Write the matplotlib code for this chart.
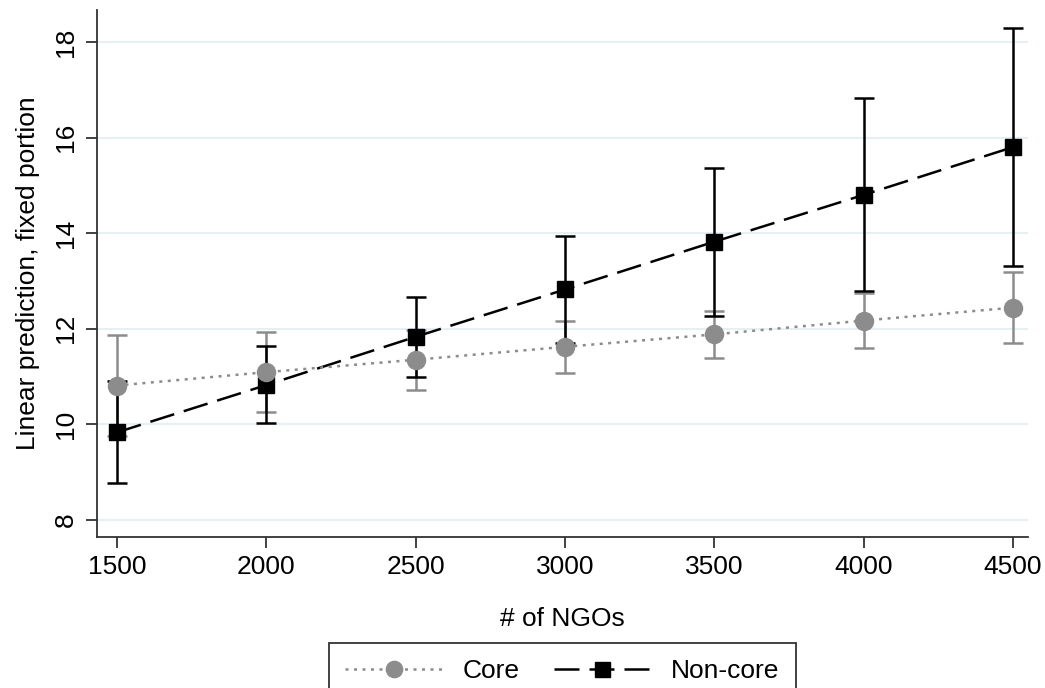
import matplotlib
matplotlib.use("Agg")
import matplotlib.pyplot as plt
import numpy as np

ngos = [1500, 2000, 2500, 3000, 3500, 4000, 4500]

core_mean = [10.81, 11.09, 11.35, 11.62, 11.88, 12.17, 12.44]
core_lo = [9.76, 10.26, 10.72, 11.08, 11.39, 11.60, 11.71]
core_hi = [11.86, 11.92, 11.98, 12.16, 12.37, 12.74, 13.18]

noncore_mean = [9.83, 10.82, 11.83, 12.82, 13.82, 14.80, 15.80]
noncore_lo = [8.76, 10.02, 10.99, 11.71, 12.26, 12.79, 13.31]
noncore_hi = [10.90, 11.63, 12.67, 13.93, 15.36, 16.82, 18.30]

y_ticks = [8, 10, 12, 14, 16, 18]
x_ticks = [1500, 2000, 2500, 3000, 3500, 4000, 4500]

plt.rcParams["font.family"] = ["Liberation Sans", "DejaVu Sans"]

GRAY = "#8c8c8c"
GRID = "#e6eff3"
FS = 19

fig = plt.figure(figsize=(10.45, 6.88), dpi=100)
ax = fig.add_axes([0.0928, 0.2195, 0.8909, 0.766])

for yt in y_ticks:
    ax.axhline(yt, color=GRID, lw=1.5, zorder=0)

x = np.array(ngos)
cm = np.array(core_mean)
nm = np.array(noncore_mean)
core_err = [cm - np.array(core_lo), np.array(core_hi) - cm]
non_err = [nm - np.array(noncore_lo), np.array(noncore_hi) - nm]

ax.errorbar(x, cm, yerr=core_err, fmt="none", ecolor=GRAY, elinewidth=1.8,
            capsize=7, capthick=1.8, zorder=2)
ax.errorbar(x, nm, yerr=non_err, fmt="none", ecolor="black", elinewidth=1.8,
            capsize=7, capthick=1.8, zorder=3)

non_line, = ax.plot(x, nm, color="black", lw=1.8, linestyle=(0, (10, 4)),
                    marker="s", markersize=12, markerfacecolor="black",
                    markeredgecolor="black", zorder=4, label="Non-core")
core_line, = ax.plot(x, cm, color=GRAY, lw=1.8, linestyle=(0, (1.2, 2.2)),
                     marker="o", markersize=13, markerfacecolor=GRAY,
                     markeredgecolor=GRAY, zorder=5, label="Core")

ax.set_xlim(1433, 4550)
ax.set_ylim(7.64, 18.67)
ax.set_xticks(x_ticks)
ax.set_yticks(y_ticks)
ax.set_yticklabels([str(t) for t in y_ticks], rotation=90, va="center")
ax.tick_params(axis="both", labelsize=FS, length=8, width=1.3, color="#333333")
ax.tick_params(axis="y", pad=6)
ax.tick_params(axis="x", pad=5)

for side in ["top", "right"]:
    ax.spines[side].set_visible(False)
for side in ["left", "bottom"]:
    ax.spines[side].set_linewidth(1.3)
    ax.spines[side].set_color("#333333")

ax.set_xlabel("# of NGOs", fontsize=FS, labelpad=20)
ax.set_ylabel("Linear prediction, fixed portion", fontsize=FS, labelpad=10)

# legend box sits at the bottom edge and runs past it
leg = fig.legend(handles=[core_line, non_line], loc="upper center",
                 bbox_to_anchor=(0.538, 0.066), ncol=2, fontsize=FS,
                 handlelength=3.7, columnspacing=1.3, handletextpad=0.75,
                 frameon=True, fancybox=False, borderpad=0.62,
                 borderaxespad=0, markerscale=0.9)
leg.get_frame().set_edgecolor("black")
leg.get_frame().set_linewidth(1.3)

fig.savefig("out.png", dpi=100)
